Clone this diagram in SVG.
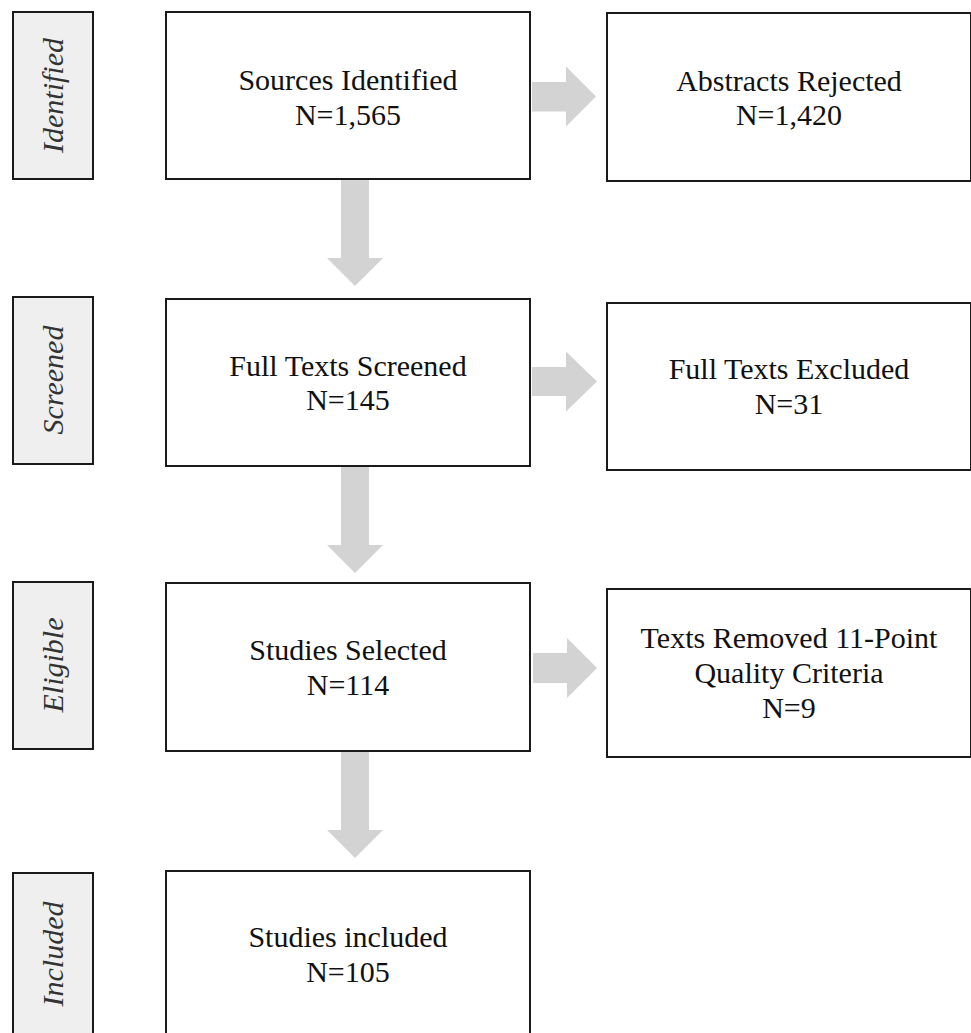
<svg xmlns="http://www.w3.org/2000/svg" width="971" height="1033" viewBox="0 0 971 1033">
<style>
.box{fill:#ffffff;stroke:#1a1a1a;stroke-width:2}
.lab{fill:#efefef;stroke:#1a1a1a;stroke-width:2}
.t{font-family:"Liberation Serif","Times New Roman",serif;font-size:30px;fill:#111;text-anchor:middle}
.lt{font-family:"Liberation Serif","Times New Roman",serif;font-size:30px;font-style:italic;fill:#333;text-anchor:middle}
.arr{fill:#d3d3d3}
</style>
<rect width="971" height="1033" fill="#ffffff"/>
<g id="connectors">
<polygon class="arr" points="341,179 369,179 369,258 383,258 355,286 327,258 341,258"/>
<polygon class="arr" points="341,466 369,466 369,545 383,545 355,573 327,545 341,545"/>
<polygon class="arr" points="341,751 369,751 369,830 383,830 355,858 327,830 341,830"/>
<polygon class="arr" points="532,82 566,82 566,66.5 596,96.5 566,126.5 566,111.5 532,111.5"/>
<polygon class="arr" points="532,367 566,367 566,351.5 597,381.5 566,411.5 566,396 532,396"/>
<polygon class="arr" points="533,653 567,653 567,638 597,668 567,698 567,683 533,683"/>
</g>
<g id="label-identified">
<rect class="lab" x="13" y="12" width="80" height="167"/>
<text class="lt" transform="translate(63,95.5) rotate(-90)">Identified</text>
</g>
<g id="label-screened">
<rect class="lab" x="13" y="297" width="80" height="167"/>
<text class="lt" transform="translate(63,380) rotate(-90)">Screened</text>
</g>
<g id="label-eligible">
<rect class="lab" x="13" y="582" width="80" height="167"/>
<text class="lt" transform="translate(63,665) rotate(-90)">Eligible</text>
</g>
<g id="label-included">
<rect class="lab" x="13" y="873" width="80" height="170"/>
<text class="lt" transform="translate(63,954) rotate(-90)">Included</text>
</g>
<g id="sources-identified">
<rect class="box" x="166" y="12" width="364" height="167"/>
<text class="t" x="348" y="90">Sources Identified</text>
<text class="t" x="348" y="125">N=1,565</text>
</g>
<g id="abstracts-rejected">
<rect class="box" x="607" y="13" width="364" height="168"/>
<text class="t" x="789" y="91">Abstracts Rejected</text>
<text class="t" x="789" y="125">N=1,420</text>
</g>
<g id="full-texts-screened">
<rect class="box" x="166" y="299" width="364" height="167"/>
<text class="t" x="348" y="376">Full Texts Screened</text>
<text class="t" x="348" y="410">N=145</text>
</g>
<g id="full-texts-excluded">
<rect class="box" x="607" y="303" width="364" height="167"/>
<text class="t" x="789" y="379">Full Texts Excluded</text>
<text class="t" x="789" y="414">N=31</text>
</g>
<g id="studies-selected">
<rect class="box" x="166" y="583" width="364" height="168"/>
<text class="t" x="348" y="660">Studies Selected</text>
<text class="t" x="348" y="695">N=114</text>
</g>
<g id="texts-removed">
<rect class="box" x="607" y="589" width="364" height="168"/>
<text class="t" x="789" y="648">Texts Removed 11-Point</text>
<text class="t" x="789" y="683">Quality Criteria</text>
<text class="t" x="789" y="718">N=9</text>
</g>
<g id="studies-included">
<rect class="box" x="166" y="871" width="364" height="170"/>
<text class="t" x="348" y="947">Studies included</text>
<text class="t" x="348" y="982">N=105</text>
</g>
</svg>
